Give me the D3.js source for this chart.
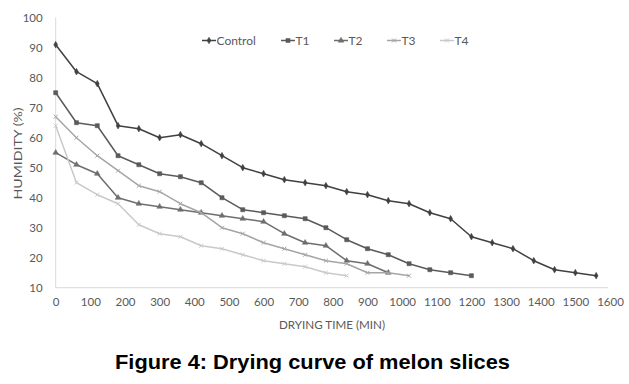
<!DOCTYPE html>
<html>
<head>
<meta charset="utf-8">
<script src="https://cdn.jsdelivr.net/npm/d3@7"></script>
<style>
  html, body { margin: 0; padding: 0; background: #fff; }
  svg { display: block; }
</style>
</head>
<body>
<svg id="chart" width="629" height="384"></svg>
<script>
// ---- data ----
const seriesNames = ["Control", "T1", "T2", "T3", "T4"];
const timeStep = [0, 60, 120, 180, 240, 300, 360, 420, 480, 540, 600, 660, 720, 780,
  840, 900, 960, 1020, 1080, 1140, 1200, 1260, 1320, 1380, 1440, 1500, 1560];
const control = [91, 82, 78, 64, 63, 60, 61, 58, 54, 50, 48, 46, 45, 44, 42, 41, 39, 38, 35, 33, 27, 25, 23, 19, 16, 15, 14];
const t1 = [75, 65, 64, 54, 51, 48, 47, 45, 40, 36, 35, 34, 33, 30, 26, 23, 21, 18, 16, 15, 14];
const t2 = [55, 51, 48, 40, 38, 37, 36, 35, 34, 33, 32, 28, 25, 24, 19, 18, 15];
const t3 = [67, 60, 54, 49, 44, 42, 38, 35, 30, 28, 25, 23, 21, 19, 18, 15, 15, 14];
const t4 = [64, 45, 41, 38, 31, 28, 27, 24, 23, 21, 19, 18, 17, 15, 14];
const xTicks = [0, 100, 200, 300, 400, 500, 600, 700, 800, 900, 1000, 1100, 1200, 1300, 1400, 1500, 1600];
const yTicks = [10, 20, 30, 40, 50, 60, 70, 80, 90, 100];
const xTitle = "DRYING TIME (MIN)";
const yTitle = "HUMIDITY (%)";
const figTitle = "Figure 4: Drying curve of melon slices";

const seriesValues = [control, t1, t2, t3, t4];
const colors = ["#404040", "#5a5a5a", "#6e6e6e", "#a5a5a5", "#c9c9c9"];
const symbols = [d3.symbolDiamond, d3.symbolSquare, d3.symbolTriangle, d3.symbolTimes, d3.symbolTimes];
const symSizes = [13, 17, 14, 12, 12];

const svg = d3.select("#chart");
const x = d3.scaleLinear().domain([0, 1600]).range([55.7, 610]);
const y = d3.scaleLinear().domain([10, 100]).range([287.7, 17.7]);

const font = "Lato, 'Open Sans', sans-serif";
const textColor = "#595959";

// axes lines
svg.append("line").attr("x1", x(0)).attr("x2", x(1600) - 2)
  .attr("y1", y(10)).attr("y2", y(10)).attr("stroke", "#d9d9d9").attr("stroke-width", 1);
svg.append("line").attr("x1", x(0)).attr("x2", x(0))
  .attr("y1", y(100)).attr("y2", y(10)).attr("stroke", "#d9d9d9").attr("stroke-width", 1);

// y axis tick labels
const yAxis = d3.axisLeft(y).tickValues(yTicks).tickSize(0).tickPadding(13);
const gy = svg.append("g").attr("transform", `translate(${x(0)},0)`).call(yAxis);
gy.select(".domain").remove();
gy.selectAll("text").attr("font-family", font).attr("font-size", 11.5).attr("fill", textColor);

// x axis tick labels
const xAxis = d3.axisBottom(x).tickValues(xTicks).tickFormat(d3.format("d")).tickSize(0).tickPadding(10);
const gx = svg.append("g").attr("transform", `translate(0,${y(10)})`).call(xAxis);
gx.select(".domain").remove();
gx.selectAll("text").attr("font-family", font).attr("font-size", 11.5).attr("fill", textColor);

// axis titles
svg.append("text").attr("x", 332).attr("y", 329).attr("text-anchor", "middle")
  .attr("font-family", font).attr("font-size", 11.5).attr("fill", textColor)
  .attr("textLength", 106).attr("lengthAdjust", "spacingAndGlyphs").text(xTitle);
svg.append("text").attr("transform", "translate(21.5,153.5) rotate(-90)").attr("text-anchor", "middle")
  .attr("font-family", font).attr("font-size", 12).attr("fill", textColor)
  .attr("textLength", 92).attr("lengthAdjust", "spacingAndGlyphs").text(yTitle);

// lines
const line = d3.line().x(d => x(d[0])).y(d => y(d[1]));
seriesValues.forEach((vals, i) => {
  const pts = vals.map((v, j) => [timeStep[j], v]);
  const g = svg.append("g");
  g.append("path").attr("d", line(pts)).attr("fill", "none")
    .attr("stroke", colors[i]).attr("stroke-width", 1.5).attr("stroke-linejoin", "round");
  const sym = d3.symbol().type(symbols[i]).size(symSizes[i]);
  g.selectAll("path.m").data(pts).join("path").attr("class", "m")
    .attr("transform", d => `translate(${x(d[0])},${y(d[1])})`)
    .attr("d", sym())
    .attr("fill", colors[i]).attr("stroke", colors[i]).attr("stroke-width", symbols[i] === d3.symbolTimes ? 1 : 0.5);
});

// legend
const legX = [202, 281, 334, 387, 440];
const legY = 40.5;
seriesNames.forEach((name, i) => {
  const g = svg.append("g").attr("transform", `translate(${legX[i]},${legY})`);
  g.append("line").attr("x1", 0).attr("x2", 14).attr("y1", 0).attr("y2", 0)
    .attr("stroke", colors[i]).attr("stroke-width", 1.5);
  g.append("path").attr("transform", "translate(7,0)")
    .attr("d", d3.symbol().type(symbols[i]).size(symSizes[i])())
    .attr("fill", colors[i]).attr("stroke", colors[i]).attr("stroke-width", symbols[i] === d3.symbolTimes ? 1 : 0.5);
  g.append("text").attr("x", 14.5).attr("y", 4.2).attr("font-family", font).attr("font-size", 12)
    .attr("fill", textColor).text(name);
});

// figure title
svg.append("text").attr("x", 312.5).attr("y", 369).attr("text-anchor", "middle")
  .attr("font-family", "'Liberation Sans', Arial, sans-serif").attr("font-weight", "bold")
  .attr("font-size", 21).attr("fill", "#000")
  .attr("textLength", 395).attr("lengthAdjust", "spacingAndGlyphs")
  .text(figTitle);
</script>
</body>
</html>
